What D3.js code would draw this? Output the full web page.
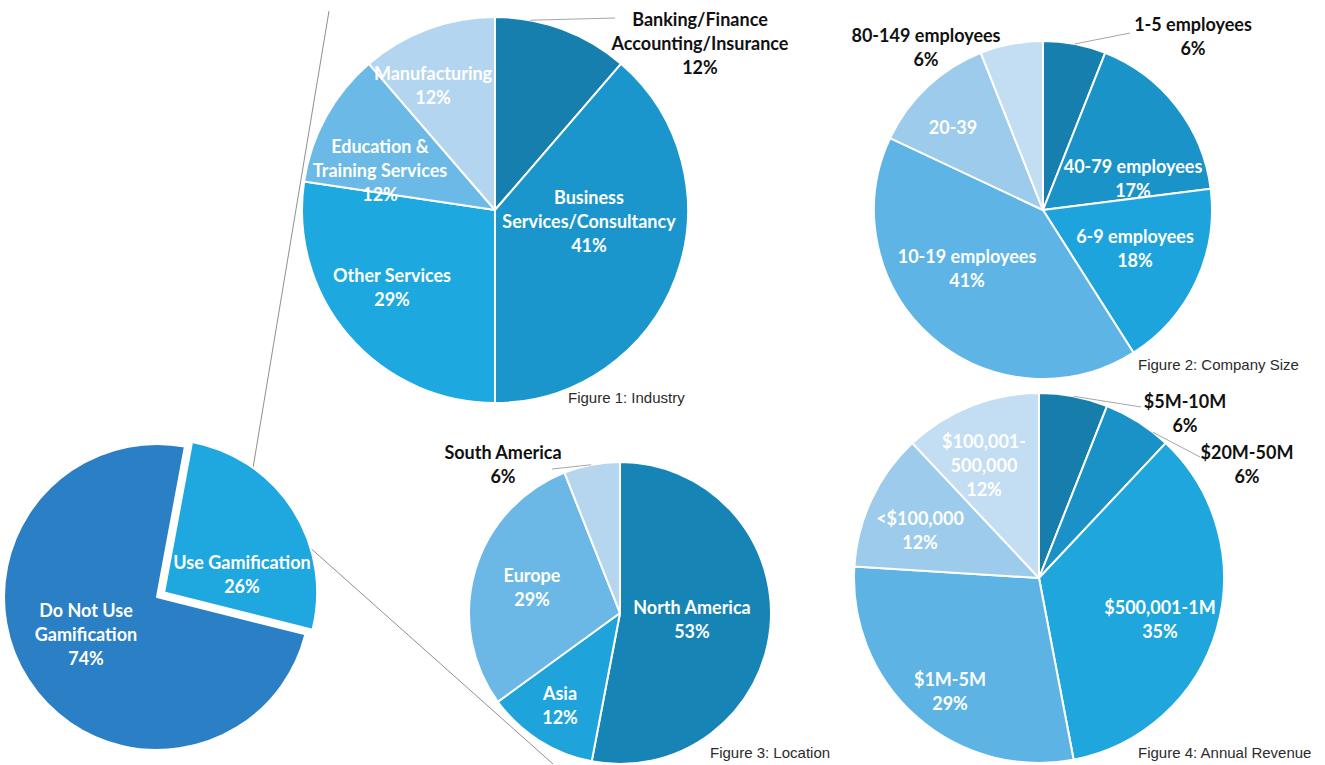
<!DOCTYPE html>
<html>
<head>
<meta charset="utf-8">
<script src="https://cdn.jsdelivr.net/npm/d3@7"></script>
<style>
  html, body { margin: 0; padding: 0; background: #fff; }
  svg { display: block; }
  .lbl { font-family: Lato, "Open Sans", sans-serif; font-weight: 700; font-size: 18px; }
  .cap { font-family: "Liberation Sans", Arial, sans-serif; font-size: 15px; fill: #2b2b2b; }
</style>
</head>
<body>
<svg id="chart" width="1325" height="765"></svg>
<script>
// ---- Data ----
// Overall adoption
const adoptionCategories = ["Use Gamification", "Do Not Use Gamification"];
const adoptionValues = [26, 74];
const adoptionLines = [["Use Gamification"], ["Do Not Use", "Gamification"]];

// Figure 1: Industry
const industryCategories = ["Banking/Finance Accounting/Insurance", "Business Services/Consultancy",
  "Other Services", "Education & Training Services", "Manufacturing"];
const industryValues = [12, 41, 29, 12, 12];
const industryLines = [["Banking/Finance", "Accounting/Insurance"], ["Business", "Services/Consultancy"],
  ["Other Services"], ["Education &", "Training Services"], ["Manufacturing"]];

// Figure 2: Company Size
const sizeCategories = ["1-5 employees", "40-79 employees", "6-9 employees", "10-19 employees", "20-39", "80-149 employees"];
const sizeValues = [6, 17, 18, 41, 12, 6];
const sizeLines = [["1-5 employees"], ["40-79 employees"], ["6-9 employees"], ["10-19 employees"], ["20-39"], ["80-149 employees"]];
const sizeShowPct = [true, true, true, true, false, true];

// Figure 3: Location
const locationCategories = ["North America", "Asia", "Europe", "South America"];
const locationValues = [53, 12, 29, 6];
const locationLines = [["North America"], ["Asia"], ["Europe"], ["South America"]];

// Figure 4: Annual Revenue
const revenueCategories = ["$5M-10M", "$20M-50M", "$500,001-1M", "$1M-5M", "<$100,000", "$100,001-500,000"];
const revenueValues = [6, 6, 35, 29, 12, 12];
const revenueLines = [["$5M-10M"], ["$20M-50M"], ["$500,001-1M"], ["$1M-5M"], ["<$100,000"], ["$100,001-", "500,000"]];

const captions = ["Figure 1: Industry", "Figure 2: Company Size", "Figure 3: Location", "Figure 4: Annual Revenue"];

// ---- Layout & style ----
const WHITE = "#ffffff", INK = "#111111";
const charts = [
  { cats: adoptionCategories, values: adoptionValues, lines: adoptionLines,
    cx: 157, cy: 597, r: 153, start: 10.5, explode: [8.5, 0],
    colors: ["#1fa7df", "#2a7fc5"], fills: [WHITE, WHITE],
    labelAt: [[85, -23], [-71, 37]] },
  { cats: industryCategories, values: industryValues, lines: industryLines,
    cx: 495, cy: 210, r: 193, start: 0,
    colors: ["#177fae", "#1b96cc", "#1da8e0", "#6bb9e6", "#b4d5f0"],
    fills: [INK, WHITE, WHITE, WHITE, WHITE],
    labelAt: [[205, -167], [94, 11], [-103, 77], [-115, -40], [-62, -125]],
    leaders: [{ slice: 0, angle: 10.5, to: [120, -192] }],
    caption: 0, capAt: [73, 187] },
  { cats: sizeCategories, values: sizeValues, lines: sizeLines, showPct: sizeShowPct,
    cx: 1043, cy: 210, r: 169, start: 0,
    colors: ["#177fae", "#1a93c9", "#1ea4dc", "#5eb5e5", "#9ccbeb", "#c3ddf3"],
    fills: [INK, WHITE, WHITE, WHITE, WHITE, INK],
    labelAt: [[150, -174], [90, -32], [92, 38], [-76, 58], [-90, -83], [-117, -163]],
    leaders: [{ slice: 0, angle: 10.8, to: [87, -177] }],
    caption: 1, capAt: [95, 154] },
  { cats: locationCategories, values: locationValues, lines: locationLines,
    cx: 620, cy: 613, r: 151, start: 0,
    colors: ["#1684b5", "#1ea3db", "#6bb8e6", "#b6d6f0"],
    fills: [WHITE, WHITE, WHITE, INK],
    labelAt: [[72, 6], [-60, 92], [-88, -26], [-117, -149]],
    leaders: [{ slice: 3, angle: 349, to: [-68, -144] }],
    caption: 2, capAt: [90, 139] },
  { cats: revenueCategories, values: revenueValues, lines: revenueLines,
    cx: 1039, cy: 578, r: 185, start: 0,
    colors: ["#177dab", "#1a92c8", "#1ea6dd", "#5db4e4", "#9ccbeb", "#c3ddf3"],
    fills: [INK, INK, WHITE, WHITE, WHITE, WHITE],
    labelAt: [[146, -165], [208, -114], [121, 41], [-89, 113], [-119, -48], [-55, -113]],
    leaders: [{ slice: 0, angle: 10.8, to: [102, -171] }, { slice: 1, angle: 38, to: [161, -121] }],
    caption: 3, capAt: [99, 174] }
];

const LINE_H = 24;
const rad = d => d * Math.PI / 180;
const svg = d3.select("#chart");

// connector lines from the highlighted slice out to the breakdown figures
const connectors = svg.append("g").attr("stroke", "#8f8f8f").attr("stroke-width", 1).attr("fill", "none");

charts.forEach((c, ci) => {
  const pie = d3.pie().sort(null).value(d => d)
    .startAngle(rad(c.start)).endAngle(rad(c.start) + 2 * Math.PI);
  const arcs = pie(c.values);
  const arc = d3.arc().innerRadius(0).outerRadius(c.r);
  const g = svg.append("g").attr("transform", `translate(${c.cx},${c.cy})`);

  const offset = (i) => {
    const e = c.explode ? c.explode[i] : 0;
    const a = arcs[i];
    return d3.pointRadial((a.startAngle + a.endAngle) / 2, e);
  };

  g.selectAll("path.slice").data(arcs).join("path")
    .attr("class", "slice")
    .attr("d", arc)
    .attr("transform", (d, i) => { const o = offset(i); return `translate(${o[0]},${o[1]})`; })
    .attr("fill", (d, i) => c.colors[i])
    .attr("stroke", "#fff")
    .attr("stroke-width", 2)
    .attr("stroke-linejoin", "round");

  // leader lines for labels placed outside the pie
  (c.leaders || []).forEach(L => {
    const p = d3.pointRadial(rad(L.angle), c.r);
    g.append("line")
      .attr("x1", p[0]).attr("y1", p[1]).attr("x2", L.to[0]).attr("y2", L.to[1])
      .attr("stroke", "#a6a6a6").attr("stroke-width", 1);
  });

  // slice labels: name lines followed by the percentage
  arcs.forEach((a, i) => {
    const showPct = c.showPct ? c.showPct[i] : true;
    const rows = c.lines[i].concat(showPct ? [`${a.data}%`] : []);
    const [lx, ly] = c.labelAt[i];
    const t = g.append("text").attr("class", "lbl")
      .attr("text-anchor", "middle").attr("fill", c.fills[i]);
    rows.forEach((row, k) => {
      t.append("tspan")
        .attr("x", lx)
        .attr("y", ly + (k - (rows.length - 1) / 2) * LINE_H)
        .attr("dominant-baseline", "central")
        .text(row);
    });
  });

  if (c.caption !== undefined) {
    g.append("text").attr("class", "cap")
      .attr("x", c.capAt[0]).attr("y", c.capAt[1])
      .attr("dominant-baseline", "central")
      .text(captions[c.caption]);
  }

  if (ci === 0) {
    // endpoints on the rim of the pulled-out slice
    const o = offset(0);
    const rimA = d3.pointRadial(rad(35.5), c.r);
    const rimB = d3.pointRadial(rad(73.2), c.r);
    const f1 = charts[1], f3 = charts[3];
    connectors.append("line")
      .attr("x1", c.cx + o[0] + rimA[0]).attr("y1", c.cy + o[1] + rimA[1])
      .attr("x2", f1.cx - 166).attr("y2", f1.cy - 199);
    connectors.append("line")
      .attr("x1", c.cx + o[0] + rimB[0]).attr("y1", c.cy + o[1] + rimB[1])
      .attr("x2", f3.cx - 67).attr("y2", f3.cy + 151);
  }
});
</script>
</body>
</html>
